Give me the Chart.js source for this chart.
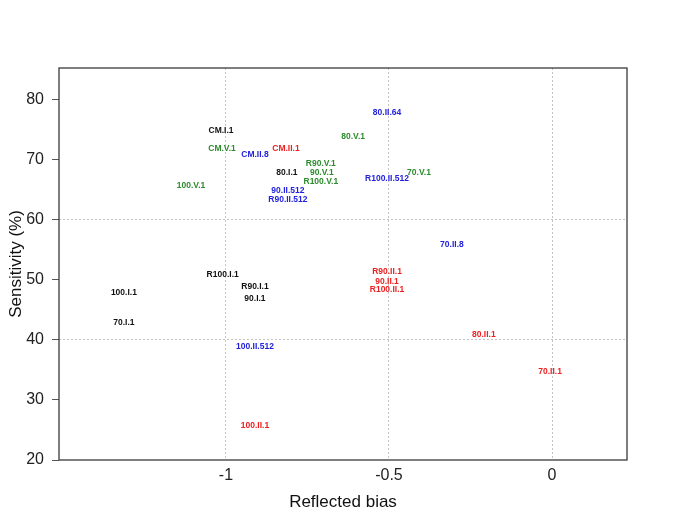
<!DOCTYPE html>
<html>
<head>
<meta charset="utf-8">
<script src="https://cdn.jsdelivr.net/npm/chart.js@4/dist/chart.umd.min.js"></script>
<style>
  html, body { margin: 0; padding: 0; background: #fff; }
  #wrap { width: 685px; height: 529px; }
</style>
</head>
<body>
<div id="wrap"><canvas id="chart"></canvas></div>
<script>
// label text, x (reflected bias), y (sensitivity %) per series
const blackLabels = ["CM.I.1", "80.I.1", "R100.I.1", "100.I.1", "R90.I.1", "90.I.1", "70.I.1"];
const blackX = [-1.015, -0.813, -1.01, -1.313, -0.911, -0.911, -1.313];
const blackY = [74.8, 67.8, 50.8, 47.8, 48.8, 46.8, 42.8];

const greenLabels = ["CM.V.1", "100.V.1", "R90.V.1", "90.V.1", "R100.V.1", "80.V.1", "70.V.1"];
const greenX = [-1.012, -1.107, -0.709, -0.706, -0.709, -0.61, -0.408];
const greenY = [71.8, 65.7, 69.3, 67.8, 66.3, 73.8, 67.8];

const redLabels = ["CM.II.1", "R90.II.1", "90.II.1", "R100.II.1", "80.II.1", "70.II.1", "100.II.1"];
const redX = [-0.816, -0.506, -0.506, -0.506, -0.209, -0.006, -0.911];
const redY = [71.8, 51.3, 49.7, 48.3, 40.8, 34.7, 25.7];

const blueLabels = ["CM.II.8", "90.II.512", "R90.II.512", "80.II.64", "R100.II.512", "100.II.512", "70.II.8"];
const blueX = [-0.911, -0.81, -0.81, -0.506, -0.506, -0.911, -0.307];
const blueY = [70.8, 64.8, 63.3, 77.8, 66.8, 38.8, 55.8];

const xTicks = [-1, -0.5, 0];
const yTicks = [20, 30, 40, 50, 60, 70, 80];
const yGrid = [40, 60];

function makeSet(labels, xs, ys, color) {
  return {
    label: labels.join(","),
    names: labels,
    data: xs.map(function(x, i) { return {x: x, y: ys[i]}; }),
    pointRadius: 0,
    pointHoverRadius: 0,
    color: color
  };
}

const datasets = [
  makeSet(blackLabels, blackX, blackY, "#111111"),
  makeSet(greenLabels, greenX, greenY, "#2e8b2e"),
  makeSet(redLabels, redX, redY, "#ee2020"),
  makeSet(blueLabels, blueX, blueY, "#2222dd")
];

// write the label text at each point
const textLabels = {
  id: 'textLabels',
  afterDatasetsDraw: function(chart) {
    const ctx = chart.ctx;
    ctx.save();
    ctx.font = 'bold 8.5px "Liberation Sans", Arial, sans-serif';
    ctx.textAlign = 'center';
    ctx.textBaseline = 'middle';
    chart.data.datasets.forEach(function(ds, i) {
      const meta = chart.getDatasetMeta(i);
      ctx.fillStyle = ds.color;
      meta.data.forEach(function(pt, j) {
        ctx.fillText(ds.names[j], pt.x, pt.y);
      });
    });
    ctx.restore();
  }
};

// box round the plot
const frame = {
  id: 'frame',
  afterDraw: function(chart) {
    const a = chart.chartArea;
    const ctx = chart.ctx;
    ctx.save();
    ctx.strokeStyle = '#3a3a3a';
    ctx.lineWidth = 1.3;
    ctx.strokeRect(a.left, a.top, a.right - a.left, a.bottom - a.top);
    ctx.restore();
  }
};

const tickFont = { family: '"Liberation Sans", Arial, sans-serif', size: 16 };
const titleFont = { family: '"Liberation Sans", Arial, sans-serif', size: 17 };

new Chart(document.getElementById('chart'), {
  type: 'scatter',
  data: { datasets: datasets },
  plugins: [textLabels, frame],
  options: {
    responsive: true,
    maintainAspectRatio: false,
    animation: false,
    layout: { padding: { top: 68, right: 58, bottom: 0, left: 0 } },
    plugins: {
      legend: { display: false },
      tooltip: { enabled: false }
    },
    scales: {
      x: {
        type: 'linear',
        min: -1.512,
        max: 0.23,
        afterBuildTicks: function(scale) {
          scale.ticks = xTicks.map(function(v) { return {value: v}; });
        },
        afterFit: function(scale) { scale.height = 69; },
        ticks: {
          font: tickFont,
          color: '#222',
          padding: 6,
          maxRotation: 0,
          callback: function(v) { return String(v); }
        },
        grid: { color: '#c4c4c4', lineWidth: 1, drawTicks: false },
        border: { display: false, dash: [2, 2] },
        title: {
          display: true,
          text: 'Reflected bias',
          font: titleFont,
          color: '#111',
          padding: { top: 0, bottom: 16 }
        }
      },
      y: {
        type: 'linear',
        min: 20,
        max: 85.3,
        afterBuildTicks: function(scale) {
          scale.ticks = yTicks.map(function(v) { return {value: v}; });
        },
        afterFit: function(scale) { scale.width = 59; },
        ticks: {
          font: tickFont,
          color: '#222',
          padding: 8
        },
        grid: {
          color: function(c) {
            return c.tick && yGrid.indexOf(c.tick.value) >= 0 ? '#c4c4c4' : 'rgba(0,0,0,0)';
          },
          tickColor: '#555',
          tickLength: 7,
          lineWidth: 1
        },
        border: { display: false, dash: [2, 2] },
        title: {
          display: true,
          text: 'Sensitivity (%)',
          font: titleFont,
          color: '#111',
          padding: { top: 6, bottom: 0 }
        }
      }
    }
  }
});
</script>
</body>
</html>
